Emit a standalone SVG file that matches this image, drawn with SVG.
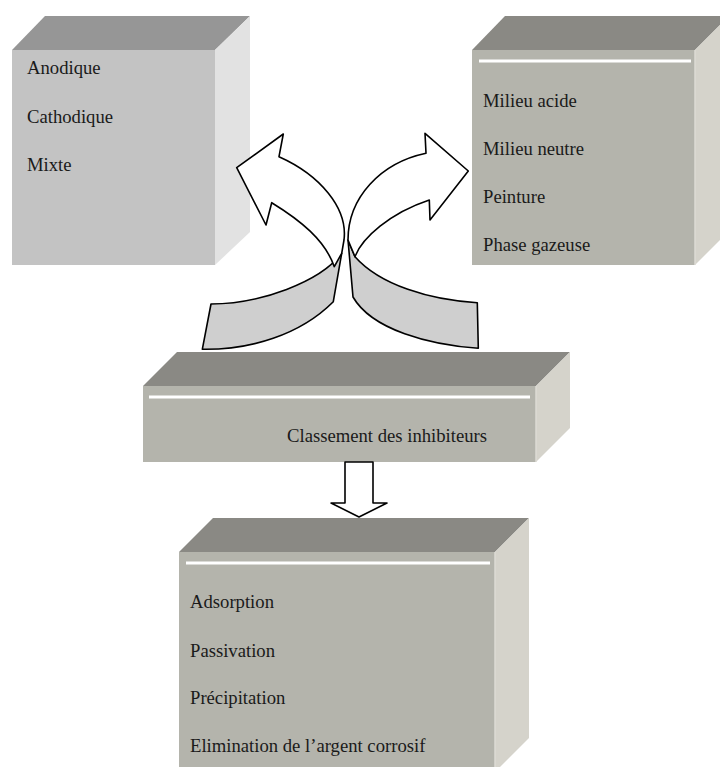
<svg xmlns="http://www.w3.org/2000/svg" width="720" height="767" viewBox="0 0 720 767">
<style>
.t{font-family:"Liberation Serif","Times New Roman",serif;font-size:18.67px;fill:#1a1a1a}
.gt{fill:#969696}.gf{fill:#c3c3c3}.gs{fill:#e2e2e2}
.kt{fill:#8a8984}.kf{fill:#b4b4ac}.ks{fill:#d5d3cb}
.edge{fill:none;stroke:#dcdbd4;stroke-width:1.5}
.wl{stroke:#ffffff;stroke-width:3}
.ar{stroke:#000;stroke-width:1.6;stroke-linejoin:round}
.aw{fill:#ffffff}.ag{fill:#cfcfcf}
</style>
<rect width="720" height="767" fill="#ffffff"/>

<g id="types">
<polygon class="gt" points="12,50 45,16 250,16 215,50"/>
<rect class="gf" x="12" y="50" width="203" height="215"/>
<polygon class="gs" points="215,50 250,16 250,232 215,265"/>
<text class="t" x="27" y="74">Anodique</text>
<text class="t" x="27" y="122.5">Cathodique</text>
<text class="t" x="27" y="171">Mixte</text>
</g>

<g id="milieux">
<polygon class="kt" points="472,50 505,16 729,16 695,50"/>
<rect class="kf" x="472" y="50" width="223" height="215"/>
<polygon class="ks" points="695,50 729,16 729,231 695,265"/>
<line class="edge" x1="695" y1="50" x2="695" y2="265"/>
<line class="wl" x1="479" y1="61" x2="691" y2="61"/>
<text class="t" x="483" y="107">Milieu acide</text>
<text class="t" x="483" y="155">Milieu neutre</text>
<text class="t" x="483" y="203">Peinture</text>
<text class="t" x="483" y="251">Phase gazeuse</text>
</g>

<g id="classement">
<polygon class="kt" points="143,386 177,352 570,352 536,386"/>
<rect class="kf" x="143" y="386" width="393" height="76"/>
<polygon class="ks" points="536,386 570,352 570,428 536,462"/>
<line class="edge" x1="536" y1="386" x2="536" y2="462"/>
<line class="wl" x1="149" y1="397" x2="530" y2="397"/>
<text class="t" x="287" y="442">Classement des inhibiteurs</text>
</g>

<g id="mecanismes">
<polygon class="kt" points="179,552 213,518 529,518 495,552"/>
<rect class="kf" x="179" y="552" width="316" height="230"/>
<polygon class="ks" points="495,552 529,518 529,738 495,772"/>
<line class="edge" x1="495" y1="552" x2="495" y2="767"/>
<line class="wl" x1="186" y1="563" x2="490" y2="563"/>
<text class="t" x="190" y="608">Adsorption</text>
<text class="t" x="190" y="657">Passivation</text>
<text class="t" x="190" y="704">Précipitation</text>
<text class="t" x="190" y="752">Elimination de l’argent corrosif</text>
</g>

<g id="connectors">
<path class="ar ag" d="M211,304 C260,304 320,282 341.7,253.3 L333.3,301.7 C300,335 250,350 202.3,349.3 Z"/>
<path class="ar aw" d="M236.7,167.7 L283.3,134 L279,156.7 C320,175 348,208 344,240 L341.7,253.3 L334.3,266.7 C325,240 300,220 271.7,202.7 L266,225 Z"/>
<path class="ar ag" d="M348,240 L355,256.7 C380,285 430,300 477.3,302.7 L478.3,348.3 C430,345 372,330 353,297 Z"/>
<path class="ar aw" d="M468.3,171 L425,133.3 L426,153.3 C380,163 348,198 348,240 L355,256.7 C362,238 390,213 429.3,200 L430,220 Z"/>
<path class="ar aw" d="M345,462 L373,462 L373,503 L387,503 L359,517 L331,503 L345,503 Z"/>
</g>
</svg>
